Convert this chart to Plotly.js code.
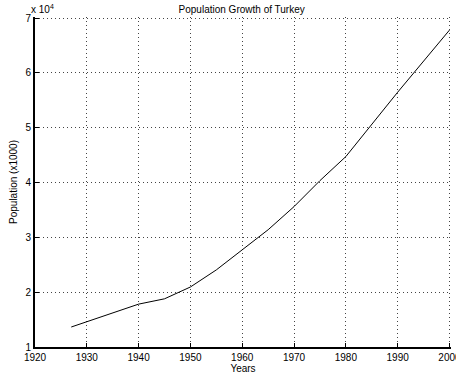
<!DOCTYPE html>
<html>
<head>
<meta charset="utf-8">
<script src="https://cdn.plot.ly/plotly-3.0.1.min.js"></script>
<style>html,body{margin:0;padding:0;background:#fff;}#chart{width:456px;height:374px;}</style>
</head>
<body>
<div id="chart"></div>
<script>
const years = [1927, 1935, 1940, 1945, 1950, 1955, 1960, 1965, 1970, 1975, 1980, 1985, 1990, 2000];
const population = [13648, 16158, 17821, 18790, 20947, 24065, 27755, 31391, 35605, 40348, 44737, 50664, 56473, 67804];
const xTicks = [1920, 1930, 1940, 1950, 1960, 1970, 1980, 1990, 2000];
const xTickLabels = ["1920", "1930", "1940", "1950", "1960", "1970", "1980", "1990", "2000"];
const yTicks = [10000, 20000, 30000, 40000, 50000, 60000, 70000];
const yTickLabels = ["1", "2", "3", "4", "5", "6", "7"];

const font = {family: "Liberation Sans, Arial, sans-serif", size: 10, color: "#000"};
Plotly.newPlot("chart", [{
  x: years, y: population, type: "scatter", mode: "lines",
  line: {color: "#000", width: 1}, hoverinfo: "skip"
}], {
  width: 456, height: 374,
  margin: {l: 35, r: 5, t: 17, b: 27},
  paper_bgcolor: "#fff", plot_bgcolor: "#fff",
  showlegend: false,
  font: font,
  title: {text: "Population Growth of Turkey", font: font, x: 0.53, xanchor: "center", y: 0.985, yanchor: "top"},
  xaxis: {
    range: [1920, 2000.3], tickvals: xTicks, ticktext: xTickLabels,
    showgrid: true, gridcolor: "#444", griddash: "1px,3px", gridwidth: 1,
    zeroline: false, showline: true, linecolor: "#000", linewidth: 2,
    ticks: "inside", ticklen: 4, tickcolor: "#000", tickfont: font,
    ticklabeloverflow: "allow",
    title: {text: "Years", font: font, standoff: 1}
  },
  yaxis: {
    range: [10000, 70200], tickvals: yTicks, ticktext: yTickLabels,
    showgrid: true, gridcolor: "#444", griddash: "1px,3px", gridwidth: 1,
    zeroline: false, showline: true, linecolor: "#000", linewidth: 2,
    ticks: "inside", ticklen: 4, tickcolor: "#000", tickfont: font,
    title: {text: "Population (x1000)", font: font, standoff: 6}
  },
  annotations: [{
    text: "x 10<sup>4</sup>", xref: "paper", yref: "paper", x: 0, y: 1,
    xanchor: "left", yanchor: "bottom", showarrow: false, font: font, xshift: -6, yshift: 0
  }]
}, {staticPlot: true, displayModeBar: false});
</script>
</body>
</html>
